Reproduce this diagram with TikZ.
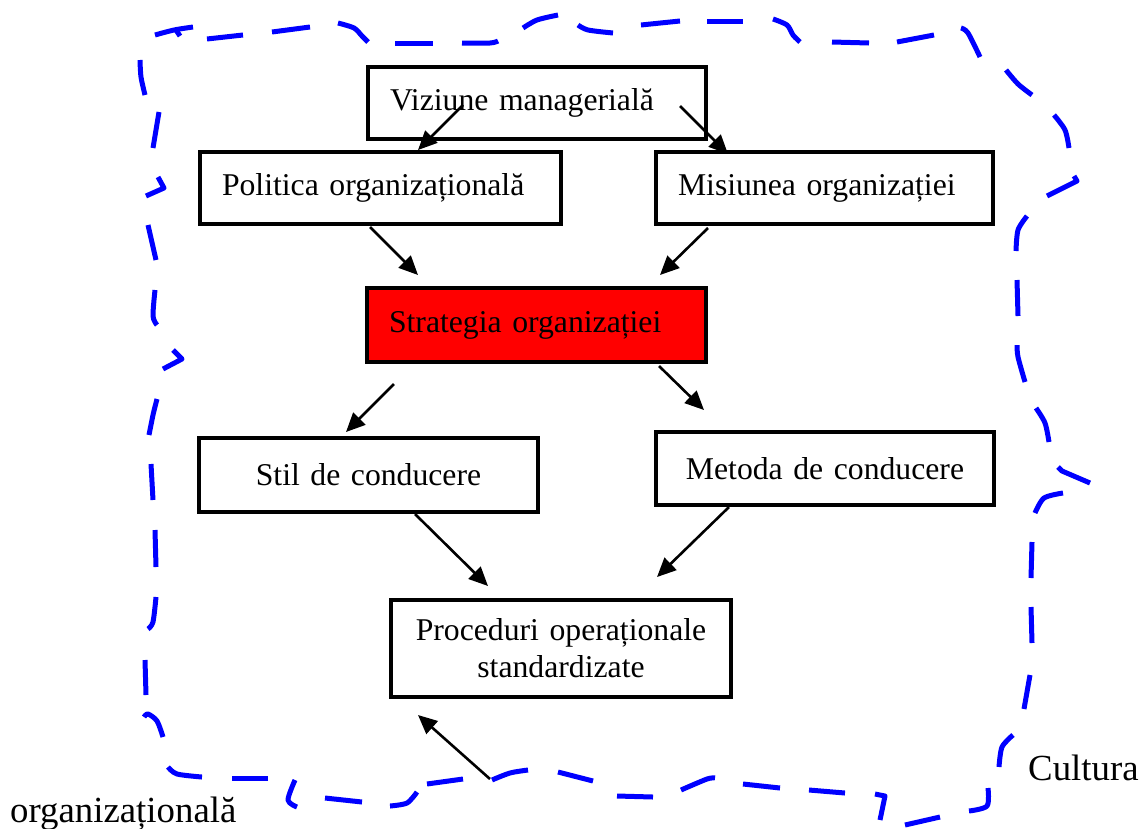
\documentclass[tikz,border=0pt]{standalone}
\usepackage{fontspec}
\setmainfont{Liberation Serif}
\usetikzlibrary{arrows.meta,calc}
\begin{document}
\begin{tikzpicture}[x=1pt,y=-1pt,
  box/.style={draw=black, line width=3.2pt, rectangle, inner xsep=22pt, inner ysep=0pt,
    font=\fontsize{31.7}{37}\selectfont, minimum height=72pt},
  lbox/.style={box, align=left},
  cbox/.style={box, align=center},
  arr/.style={line width=2.6pt, -{Triangle[length=19pt,width=17pt]}},
  cult/.style={draw=blue, line width=5pt, line join=round},
  outer/.style={font=\fontsize{36.8}{42}\selectfont, inner sep=0pt, anchor=base west}
]
\useasboundingbox (0,0) rectangle (1142,828);

% boxes
\node[lbox, text width=294pt] (viz) at (537,103) {Viziune managerială};
\node[lbox, text width=317pt] (pol) at (380.5,188) {Politica organizațională};
\node[lbox, text width=293pt] (mis) at (824.5,188) {Misiunea organizației};
\node[lbox, fill=red, text width=295pt, minimum height=74pt] (str) at (536.5,325) {Strategia organizației};
\node[cbox, text width=295pt, minimum height=74pt] (stil) at (368.5,475) {Stil de conducere};
\node[cbox, text width=294pt, minimum height=73pt] (met) at (825,468.5) {Metoda de conducere};
\node[cbox, text width=296pt, minimum height=97pt] (proc) at (561,648.5) {Proceduri operaționale\\standardizate};

% labels of the surrounding culture
\node[outer] (cult) at (1028,780) {Cultura};
\node[outer] (org) at (10,822) {organizațională};

% arrows between the boxes
\coordinate (foot) at (490,779);
\draw[arr] ($(viz)+(-74,2)$) -- ($(pol)+(37.5,-38)$);
\draw[arr] ($(viz)+(143,3)$) -- ($(mis)+(-96.5,-34)$);
\draw[arr] ($(pol)+(-10.5,39)$) -- ($(str)+(-118.5,-50)$);
\draw[arr] ($(mis)+(-116.5,40)$) -- ($(str)+(123.5,-50)$);
\draw[arr] ($(str)+(-142.5,59)$) -- ($(stil)+(-22.5,-43)$);
\draw[arr] ($(str)+(122.5,41)$) -- ($(met)+(-121,-58.5)$);
\draw[arr] ($(stil)+(46.5,39)$) -- ($(proc)+(-73,-62.5)$);
\draw[arr] ($(met)+(-96,38.5)$) -- ($(proc)+(96,-71.5)$);
\draw[arr] (foot) -- ($(proc)+(-143,66.5)$);

% hand-drawn dashed outline: top edge
\draw[cult] plot[smooth] coordinates {(155,35) (174,30) (193,27)};
\draw[cult] (176,30) -- (180,36);
\draw[cult] (207,39) -- (243,35);
\draw[cult] (272,32) -- (310,27);
\draw[cult] plot[smooth] coordinates {(338,23) (354,28) (362,36) (368,42)};
\draw[cult] (395,43) -- (433,43);
\draw[cult] plot[smooth] coordinates {(462,43) (490,43) (498,41)};
\draw[cult] plot[smooth] coordinates {(523,28) (537,20) (558,15)};
\draw[cult] plot[smooth] coordinates {(578,25) (588,30) (613,33)};
\draw[cult] (641,25) -- (680,21);
\draw[cult] (707,21) -- (743,21);
\draw[cult] plot[smooth] coordinates {(773,19) (787,25) (793,35) (800,42)};
\draw[cult] (832,42) -- (869,43);
\draw[cult] (897,42) -- (934,35);
\draw[cult] plot[smooth] coordinates {(961,28) (968,33) (980,57)};
% right edge
\draw[cult] plot[smooth] coordinates {(1006,70) (1018,84) (1032,95)};
\draw[cult] plot[smooth] coordinates {(1054,115) (1065,130) (1069,148)};
\draw[cult] (1074,176) -- (1077,181) -- (1047,196);
\draw[cult] plot[smooth] coordinates {(1027,216) (1018,230) (1016,251)};
\draw[cult] (1017,280) -- (1018,316);
\draw[cult] plot[smooth] coordinates {(1017,345) (1018,357) (1025,382)};
\draw[cult] plot[smooth] coordinates {(1036,408) (1045,423) (1049,442)};
\draw[cult] (1058,467) -- (1062,471) -- (1090,483);
\draw[cult] plot[smooth] coordinates {(1063,493) (1044,498) (1035,513)};
\draw[cult] (1032,542) -- (1031,578);
\draw[cult] (1031,607) -- (1032,643);
\draw[cult] (1030,675) -- (1024,709);
\draw[cult] plot[smooth] coordinates {(1013,735) (1002,747) (999,767)};
\draw[cult] plot[smooth] coordinates {(988,788) (987,806) (969,811)};
% bottom edge
\draw[cult] (905,825) -- (940,817);
\draw[cult] (875,794) -- (885,796) -- (880,820);
\draw[cult] (845,793) -- (809,790);
\draw[cult] (780,788) -- (743,784);
\draw[cult] plot[smooth] coordinates {(715,778) (707,779) (681,790)};
\draw[cult] (653,797) -- (617,796);
\draw[cult] (593,781) -- (558,772);
\draw[cult] plot[smooth] coordinates {(528,770) (510,773) (492,780)};
\draw[cult] (463,779) -- (427,784);
\draw[cult] plot[smooth] coordinates {(417,792) (407,803) (390,806)};
\draw[cult] (362,802) -- (325,798);
\draw[cult] plot[smooth] coordinates {(295,780) (288,800) (297,807)};
\draw[cult] (268,778) -- (232,778);
\draw[cult] plot[smooth] coordinates {(202,777) (177,774) (168,767)};
% left edge
\draw[cult] plot[smooth] coordinates {(163,737) (157,721) (148,714) (144,717)};
\draw[cult] (146,695) -- (145,660);
\draw[cult] plot[smooth] coordinates {(148,629) (153,622) (156,597)};
\draw[cult] (156,567) -- (155,530);
\draw[cult] (153,500) -- (151,464);
\draw[cult] plot[smooth] coordinates {(149,435) (153,415) (157,399)};
\draw[cult] (173,350) -- (182,359) -- (163,369);
\draw[cult] plot[smooth] coordinates {(157,325) (153,316) (155,290)};
\draw[cult] (156,260) -- (148,225);
\draw[cult] (158,177) -- (164,188) -- (146,196);
\draw[cult] (153,148) -- (159,112);
\draw[cult] plot[smooth] coordinates {(145,95) (141,77) (140,60)};
\end{tikzpicture}
\end{document}
